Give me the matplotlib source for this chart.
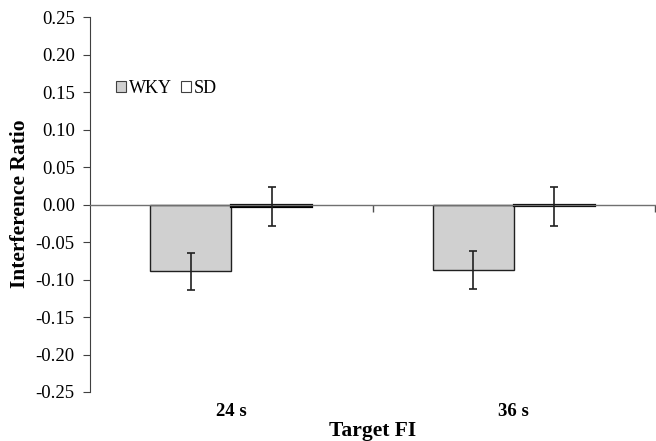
import matplotlib
matplotlib.use('Agg')
import matplotlib.pyplot as plt
import matplotlib.transforms as mtransforms
from matplotlib.patches import Patch
import numpy as np

# group means and standard errors
targets = ['24 s', '36 s']
wky_mean = [-0.089, -0.087]
wky_err = [0.025, 0.025]
sd_mean = [-0.003, -0.002]
sd_err = [0.026, 0.026]
yticks = [-0.25, -0.20, -0.15, -0.10, -0.05, 0.00, 0.05, 0.10, 0.15, 0.20, 0.25]

plt.rcParams['font.family'] = ['Liberation Serif', 'DejaVu Serif']

fig = plt.figure(figsize=(6.56, 4.41), dpi=100)
ax = fig.add_axes([90/656, 49/441, 565/656, 375/441])

x = np.arange(len(targets))
w = 0.287
ax.bar(x - w/2, wky_mean, w, color='#d0d0d0', edgecolor='#202020', linewidth=1.0,
       zorder=2)
ax.bar(x + w/2, sd_mean, w, color='white', edgecolor='black', linewidth=1.6,
       zorder=2)
ax.errorbar(x - w/2, wky_mean, yerr=wky_err, fmt='none', ecolor='#202020',
            elinewidth=1.2, capsize=3, capthick=1.2, zorder=3)
ax.errorbar(x + w/2, sd_mean, yerr=sd_err, fmt='none', ecolor='#202020',
            elinewidth=1.2, capsize=3, capthick=1.2, zorder=3)

ax.set_xlim(-0.5, 1.5)
ax.set_ylim(-0.25, 0.25)
ax.set_yticks(yticks)
ax.set_yticklabels(['%.2f' % abs(v) if v == 0 else '%.2f' % v for v in yticks])
ax.tick_params(axis='y', direction='out', length=5, labelsize=13.5, width=0.8,
               color='#404040', pad=6)

# zero line acts as the x axis
for s in ['top', 'right']:
    ax.spines[s].set_visible(False)
ax.spines['bottom'].set_position(('data', 0))
ax.spines['bottom'].set_color('#707070')
ax.spines['bottom'].set_linewidth(1.0)
ax.spines['left'].set_color('#404040')
ax.spines['left'].set_linewidth(0.8)
ax.set_xticks([0.5, 1.5])
ax.set_xticklabels([])
ax.tick_params(axis='x', direction='out', length=5, width=1.0, color='#505050')

trans = mtransforms.blended_transform_factory(ax.transData, fig.transFigure)
for xi, lab in zip(x, targets):
    ax.text(xi, 1 - 412/441, lab, transform=trans, ha='center', va='center',
            fontsize=13.5, fontweight='bold')

fig.text(373/656, 1 - 431/441, 'Target FI', ha='center', va='center',
         fontsize=15.5, fontweight='bold')
fig.text(20/656, 1 - 204/441, 'Interference Ratio', ha='center', va='center',
         rotation=90, fontsize=15.5, fontweight='bold')

handles = [Patch(facecolor='#d0d0d0', edgecolor='#404040', linewidth=0.8, label='WKY'),
           Patch(facecolor='white', edgecolor='#404040', linewidth=0.8, label='SD')]
ax.legend(handles=handles, loc='center left', bbox_to_anchor=(0.03, 1 - (88 - 17)/375),
          ncol=2, frameon=False, fontsize=13, handlelength=0.55, handleheight=0.55,
          handletextpad=0.15, columnspacing=0.5, borderpad=0)

fig.savefig('out.png', dpi=100)
